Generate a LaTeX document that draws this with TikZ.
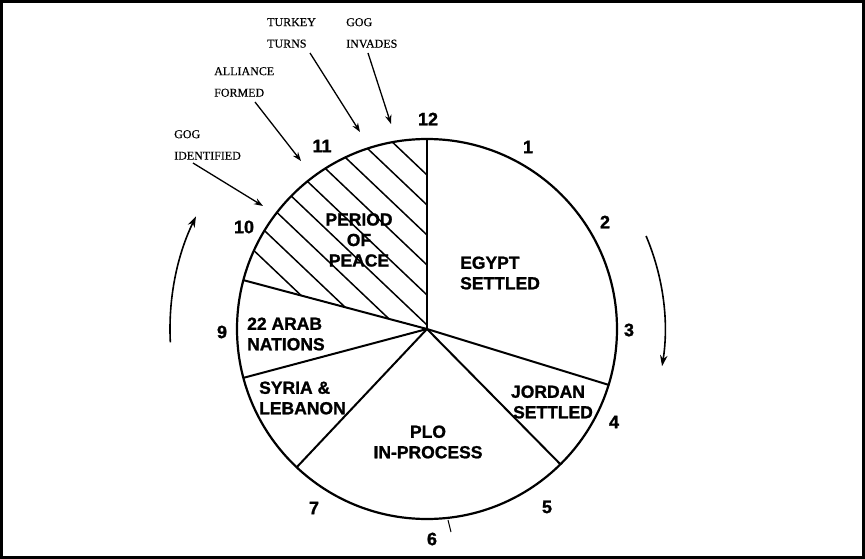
\documentclass[tikz,border=0pt]{standalone}
\usepackage{fontspec}
\setmainfont{Liberation Serif}
\newfontfamily\heavysans[FakeBold=1.2]{Liberation Sans Bold}
\newfontfamily\notefont[FakeBold=0.4]{Liberation Serif}
\usetikzlibrary{arrows.meta}
\begin{document}
\begin{tikzpicture}[x=1pt,y=-1pt,
  num/.style={font=\heavysans\fontsize{18}{20}\selectfont, inner sep=0pt},
  sector/.style={font=\heavysans\fontsize{17.5}{20.5}\selectfont, inner sep=0pt},
  note/.style={font=\notefont\fontsize{12}{21.5}\selectfont, align=left, inner sep=0pt, anchor=north west},
  pointer/.style={line width=1.3pt, -{Stealth[length=9pt,width=6.5pt]}},
  flow/.style={line width=1.6pt, -{Stealth[length=11pt,width=7.5pt]}},
  spoke/.style={line width=2pt},
  hatch/.style={line width=1.5pt}]
\useasboundingbox (0,0) rectangle (865,559);
\draw[line width=3pt] (1.5,1.5) rectangle (863.5,557.5);

\coordinate (O) at (427,329);

% hatching of the period of peace
\begin{scope}
\clip (O) -- ++(-90:190) arc[start angle=-90, end angle=-165.1, radius=190] -- cycle;
\foreach \c in {175,205,...,415}
  \draw[hatch] (127,{\c-0.95*300}) -- (437,{\c+0.95*10});
\end{scope}

% pie
\draw[line width=2.2pt] (O) circle[radius=190];
\foreach \a in {-90,17.1,45.4,133.3,165.1,194.9}
  \draw[spoke] (O) -- ++(\a:190);
\draw[line width=1pt] (448,520) -- (451,532);

% hour numbers
\node[num] (h12) at (428,119) {12};
\node[num] (h1) at (528,147) {1};
\node[num] (h2) at (605,222) {2};
\node[num] (h3) at (629,330) {3};
\node[num] (h4) at (614,422) {4};
\node[num] (h5) at (547,507) {5};
\node[num] (h6) at (432,539) {6};
\node[num] (h7) at (314,508) {7};
\node[num] (h9) at (222,332) {9};
\node[num] (h10) at (244,227) {10};
\node[num] (h11) at (322,146) {11};

% sector labels
\node[sector, align=center] (peace) at (359,240) {PERIOD\\OF\\PEACE};
\node[sector, align=left, anchor=west] (egypt) at (460,273) {EGYPT\\SETTLED};
\node[sector, align=left, anchor=west] (arab) at (247,334) {22 ARAB\\NATIONS};
\node[sector, align=left, anchor=west] (syria) at (259,398) {SYRIA \&\\ LEBANON};
\node[sector, align=center] (jordan) at (548,402) {JORDAN\\\hspace*{10pt}SETTLED};
\node[sector, align=center] (plo) at (428,442) {PLO\\IN-PROCESS};

% annotations
\node[note] (turkey) at (267,18) {TURKEY\\TURNS};
\node[note] (invades) at (346,18) {GOG\\INVADES};
\node[note] (alliance) at (214,67) {ALLIANCE\\FORMED};
\node[note] (identified) at (174,130) {GOG\\IDENTIFIED};

\coordinate (tA) at (310,53);  \coordinate (tB) at (360,132);
\coordinate (iA) at (368,53);  \coordinate (iB) at (391,124);
\coordinate (aA) at (255,102); \coordinate (aB) at (301,161);
\coordinate (gA) at (193,163); \coordinate (gB) at (263,206);
\draw[pointer] (tA) -- (tB);
\draw[pointer] (iA) -- (iB);
\draw[pointer] (aA) -- (aB);
\draw[pointer] (gA) -- (gB);

% direction arrows
\draw[flow] (O) ++(-23:238) arc[start angle=-23, end angle=9, radius=238];
\draw[flow] (O) ++(177:257) arc[start angle=177, end angle=206, radius=257];
\end{tikzpicture}
\end{document}
